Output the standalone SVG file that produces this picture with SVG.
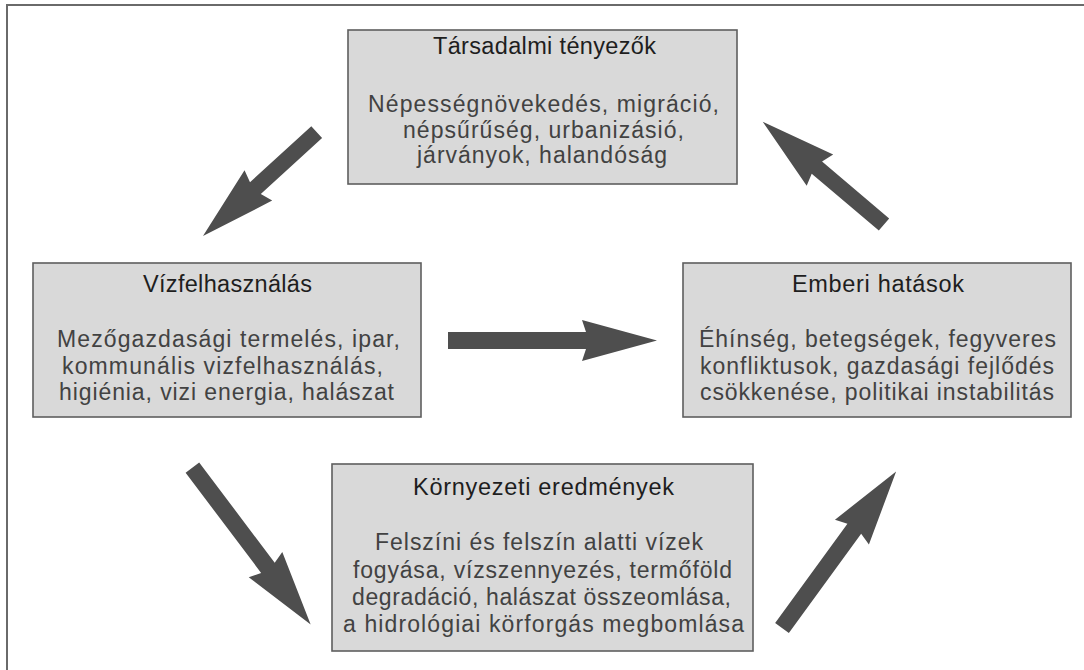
<svg xmlns="http://www.w3.org/2000/svg" width="1084" height="670" viewBox="0 0 1084 670">
<style>
.box{fill:#d9d9d9;stroke:#5e5e5e;stroke-width:1.6}
.t{font-family:"Liberation Sans",Arial,sans-serif;font-size:23.5px;fill:#1e1e1e}
.b{font-family:"Liberation Sans",Arial,sans-serif;font-size:23px;fill:#424242}
.arr{fill:#4e4e4e}
.frame{stroke:#6a6a6a;stroke-width:2;fill:none}
</style>
<rect width="1084" height="670" fill="#fff"/>
<path class="frame" d="M7,670 V5 H1084"/>
<g id="tarsadalmi">
<rect class="box" x="348" y="30" width="389" height="154"/>
<text class="t" x="433" y="54" textLength="223" lengthAdjust="spacing">Társadalmi tényezők</text>
<text class="b" x="368" y="112" textLength="351" lengthAdjust="spacing">Népességnövekedés, migráció,</text>
<text class="b" x="403" y="138" textLength="281" lengthAdjust="spacing">népsűrűség, urbanizásió,</text>
<text class="b" x="417" y="163" textLength="250" lengthAdjust="spacing">járványok, halandóság</text>
</g>
<g id="vizfelhasznalas">
<rect class="box" x="33" y="263" width="388" height="154"/>
<text class="t" x="143" y="292" textLength="169" lengthAdjust="spacing">Vízfelhasználás</text>
<text class="b" x="57" y="347" textLength="343" lengthAdjust="spacing">Mezőgazdasági termelés, ipar,</text>
<text class="b" x="62" y="374" textLength="321" lengthAdjust="spacing">kommunális vizfelhasználás,</text>
<text class="b" x="59" y="400" textLength="335" lengthAdjust="spacing">higiénia, vizi energia, halászat</text>
</g>
<g id="emberi">
<rect class="box" x="683" y="263" width="388" height="154"/>
<text class="t" x="792" y="292" textLength="172" lengthAdjust="spacing">Emberi hatások</text>
<text class="b" x="699" y="347" textLength="357" lengthAdjust="spacing">Éhínség, betegségek, fegyveres</text>
<text class="b" x="700" y="374" textLength="354" lengthAdjust="spacing">konfliktusok, gazdasági fejlődés</text>
<text class="b" x="700" y="400" textLength="354" lengthAdjust="spacing">csökkenése, politikai instabilitás</text>
</g>
<g id="kornyezeti">
<rect class="box" x="332" y="464" width="421" height="187"/>
<text class="t" x="413" y="495" textLength="261" lengthAdjust="spacing">Környezeti eredmények</text>
<text class="b" x="375" y="550" textLength="328" lengthAdjust="spacing">Felszíni és felszín alatti vízek</text>
<text class="b" x="353" y="578" textLength="379" lengthAdjust="spacing">fogyása, vízszennyezés, termőföld</text>
<text class="b" x="352" y="605" textLength="379" lengthAdjust="spacing">degradáció, halászat összeomlása,</text>
<text class="b" x="343" y="632" textLength="401" lengthAdjust="spacing">a hidrológiai körforgás megbomlása</text>
</g>
<g id="connectors">
<polygon class="arr" points="0,-8.5 138,-8.5 134,-20.5 209,0 134,20.5 138,8.5 0,8.5" transform="translate(448,340.5)"/>
<polygon class="arr" points="0,-8 83,-8 79,-20.5 154,0 79,20.5 83,8 0,8" transform="translate(316.7,132.2) rotate(137.6)"/>
<polygon class="arr" points="0,-8 88,-8 84,-20.5 159,0 84,20.5 88,8 0,8" transform="translate(884,224.5) rotate(-139.7)"/>
<polygon class="arr" points="0,-8.5 125.5,-8.5 121.5,-21 196.5,0 121.5,21 125.5,8.5 0,8.5" transform="translate(192.4,467.6) rotate(53)"/>
<polygon class="arr" points="0,-8.5 122.7,-8.5 118.7,-21 193.7,0 118.7,21 122.7,8.5 0,8.5" transform="translate(782,628) rotate(-53.9)"/>
</g>
</svg>
